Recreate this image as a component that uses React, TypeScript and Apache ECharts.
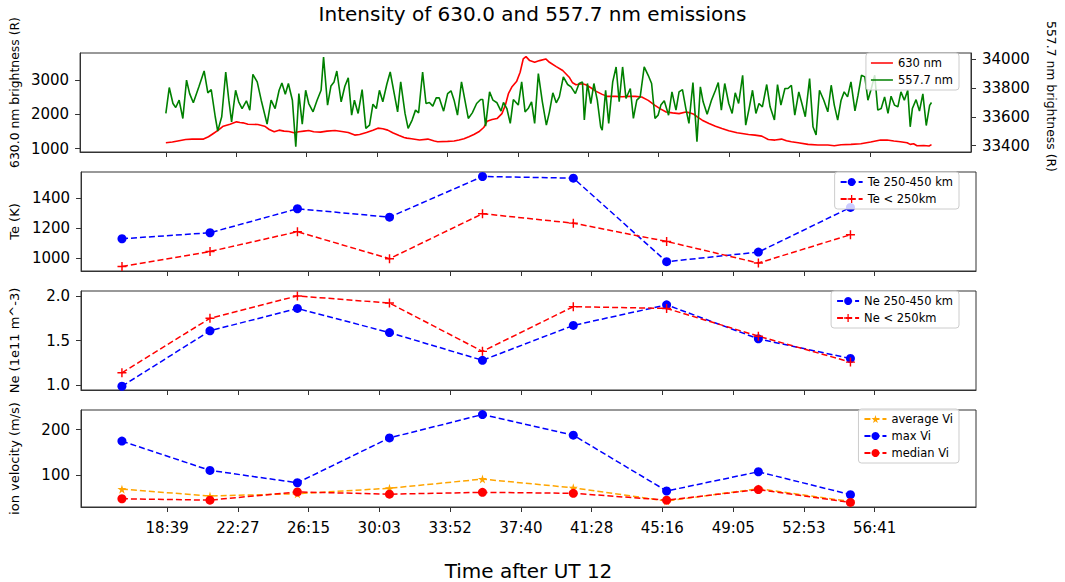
import React, { useEffect, useRef } from "react";
import * as echarts from "echarts";

// x tick labels (minutes:seconds after UT 12)
const TICK_LABELS = ["18:39", "22:27", "26:15", "30:03", "33:52", "37:40", "41:28", "45:16", "49:05", "52:53", "56:41"];

// 630.0 nm brightness (R): [seconds after UT 12, value]
const RED_630: [number, number][] = [
  [1119, 1176], [1140, 1195], [1162, 1234], [1183, 1272], [1204, 1282], [1241, 1282], [1257, 1350], [1273, 1446],
  [1289, 1543], [1305, 1659], [1327, 1717], [1348, 1785], [1359, 1765], [1369, 1756], [1385, 1717], [1417, 1707],
  [1439, 1659], [1454, 1562], [1470, 1495], [1486, 1543], [1502, 1514], [1518, 1504], [1534, 1466], [1550, 1495],
  [1566, 1514], [1582, 1533], [1598, 1495], [1620, 1485], [1641, 1514], [1667, 1533], [1689, 1504], [1710, 1475],
  [1731, 1398], [1747, 1417], [1769, 1475], [1790, 1543], [1806, 1601], [1822, 1582], [1838, 1543], [1854, 1466],
  [1875, 1388], [1891, 1330], [1900, 1310], [1915, 1290], [1941, 1253], [1968, 1282], [1989, 1224], [2000, 1205],
  [2032, 1214], [2053, 1224], [2069, 1253], [2085, 1292], [2101, 1350], [2117, 1417], [2133, 1495], [2149, 1620],
  [2160, 1804], [2176, 1852], [2192, 1881], [2208, 2026], [2219, 2268], [2229, 2606], [2240, 2800], [2256, 2973],
  [2267, 3234], [2277, 3621], [2286, 3689], [2298, 3573], [2314, 3524], [2330, 3573], [2350, 3621], [2362, 3524],
  [2384, 3399], [2405, 3283], [2426, 3089], [2437, 2925], [2448, 2867], [2469, 2896], [2480, 2867], [2496, 2780],
  [2512, 2683], [2533, 2587], [2549, 2529], [2576, 2529], [2597, 2519], [2618, 2529], [2640, 2529], [2661, 2510],
  [2682, 2413], [2704, 2268], [2720, 2171], [2740, 2075], [2761, 2046], [2782, 2026], [2804, 2075], [2814, 2055],
  [2830, 2007], [2841, 1930], [2857, 1833], [2879, 1736], [2900, 1659], [2921, 1591], [2943, 1524], [2970, 1466],
  [2986, 1446], [3007, 1417], [3028, 1398], [3050, 1369], [3071, 1272], [3093, 1253], [3114, 1282], [3130, 1234],
  [3146, 1205], [3168, 1176], [3200, 1127], [3232, 1108], [3264, 1108], [3285, 1089], [3307, 1118], [3339, 1127],
  [3371, 1147], [3403, 1195], [3435, 1253], [3456, 1253], [3478, 1224], [3499, 1205], [3521, 1176], [3531, 1127],
  [3542, 1147], [3553, 1089], [3575, 1095], [3592, 1080], [3600, 1120],
];

// 557.7 nm brightness (R): [seconds after UT 12, value]
const GREEN_557: [number, number][] = [
  [1119, 33624], [1130, 33804], [1142, 33693], [1151, 33665], [1162, 33716], [1174, 33589], [1186, 33855], [1196, 33762],
  [1208, 33698], [1226, 33809], [1243, 33919], [1255, 33767], [1266, 33790], [1279, 33601], [1287, 33501], [1300, 33601],
  [1313, 33912], [1323, 33716], [1332, 33566], [1345, 33785], [1355, 33705], [1366, 33658], [1380, 33712], [1391, 33647],
  [1401, 33896], [1415, 33843], [1428, 33716], [1447, 33550], [1460, 33716], [1473, 33658], [1486, 33785], [1495, 33836],
  [1506, 33758], [1516, 33832], [1529, 33716], [1540, 33393], [1550, 33762], [1561, 33550], [1572, 33785], [1582, 33693],
  [1596, 33635], [1609, 33716], [1622, 33785], [1630, 34016], [1643, 33682], [1654, 33815], [1664, 33843], [1673, 33919],
  [1687, 33705], [1699, 33813], [1710, 33871], [1721, 33612], [1730, 33716], [1742, 33624], [1755, 33790], [1767, 33520],
  [1779, 33543], [1790, 33688], [1801, 33658], [1811, 33785], [1822, 33705], [1835, 33827], [1846, 33912], [1859, 33762],
  [1870, 33635], [1880, 33843], [1894, 33624], [1904, 33520], [1917, 33578], [1928, 33647], [1938, 33628], [1951, 33912],
  [1962, 33693], [1973, 33700], [1984, 33675], [1995, 33732], [2005, 33732], [2019, 33640], [2032, 33762], [2043, 33781],
  [2053, 33716], [2064, 33612], [2077, 33843], [2088, 33716], [2099, 33589], [2112, 33628], [2126, 33693], [2139, 33721],
  [2146, 33721], [2155, 33536], [2168, 33774], [2179, 33716], [2192, 33698], [2205, 33640], [2213, 33700], [2224, 33658],
  [2235, 33555], [2245, 33721], [2261, 33682], [2272, 33843], [2283, 33635], [2293, 33658], [2304, 33705], [2314, 33555],
  [2326, 33901], [2339, 33705], [2352, 33543], [2362, 33635], [2373, 33767], [2384, 33698], [2394, 33739], [2407, 33878],
  [2421, 33825], [2432, 33809], [2446, 33762], [2458, 33832], [2469, 33843], [2475, 33578], [2485, 33832], [2496, 33693],
  [2506, 33832], [2517, 33716], [2528, 33531], [2533, 33508], [2544, 33785], [2554, 33555], [2567, 33843], [2578, 33947],
  [2588, 33705], [2599, 33947], [2610, 33728], [2624, 33797], [2634, 33589], [2645, 33716], [2656, 33739], [2669, 33947],
  [2682, 33889], [2693, 33832], [2704, 33589], [2714, 33612], [2723, 33682], [2734, 33712], [2748, 33612], [2759, 33774],
  [2772, 33647], [2782, 33774], [2793, 33790], [2804, 33658], [2814, 33555], [2827, 33839], [2840, 33428], [2851, 33809],
  [2860, 33705], [2873, 33619], [2887, 33716], [2900, 33785], [2909, 33839], [2919, 33647], [2930, 33832], [2943, 33693],
  [2954, 33624], [2964, 33767], [2975, 33693], [2988, 33889], [2998, 33543], [3009, 33658], [3020, 33785], [3031, 33624],
  [3041, 33693], [3052, 33670], [3066, 33825], [3077, 33670], [3091, 33578], [3101, 33825], [3112, 33682], [3125, 33797],
  [3135, 33797], [3146, 33820], [3157, 33612], [3170, 33774], [3180, 33693], [3191, 33601], [3205, 33866], [3216, 33531],
  [3226, 33474], [3237, 33785], [3251, 33716], [3264, 33635], [3275, 33820], [3285, 33682], [3296, 33578], [3307, 33716],
  [3317, 33774], [3328, 33739], [3339, 33843], [3352, 33642], [3362, 33751], [3373, 33889], [3384, 33878], [3394, 33716],
  [3405, 33797], [3416, 33889], [3426, 33647], [3437, 33658], [3448, 33739], [3459, 33624], [3469, 33744], [3480, 33682],
  [3491, 33670], [3501, 33774], [3512, 33716], [3523, 33785], [3531, 33531], [3538, 33658], [3550, 33720], [3561, 33640],
  [3572, 33760], [3583, 33540], [3594, 33680], [3600, 33700],
];

// Sample times of the profiles (seconds after UT 12)
const PROFILE_TIMES = [973, 1257, 1539, 1836, 2136, 2429, 2730, 3026, 3323];

const TE_HIGH = [1129, 1169, 1329, 1273, 1544, 1533, 976, 1040, 1338];
const TE_LOW = [944, 1044, 1176, 996, 1296, 1233, 1111, 967, 1156];

const NE_HIGH = [0.99, 1.61, 1.86, 1.59, 1.28, 1.67, 1.9, 1.52, 1.3];
const NE_LOW = [1.14, 1.75, 2.0, 1.92, 1.38, 1.88, 1.86, 1.55, 1.26];

const VI_AVG = [70, 55, 60, 72, 92, 73, 44, 71, 43];
const VI_MAX = [175, 111, 84, 182, 233, 188, 66, 108, 58];
const VI_MEDIAN = [49, 46, 64, 59, 63, 61, 46, 69, 41];

const Y_TICKS_630 = [1000, 2000, 3000];
const Y_TICKS_557 = [33400, 33600, 33800, 34000];
const Y_TICKS_TE = [1000, 1200, 1400];
const Y_TICKS_NE = [1.0, 1.5, 2.0];
const Y_TICKS_VI = [100, 200];

const FONT = "DejaVu Sans";

const toSec = (s: string) => {
  const [m, ss] = s.split(":").map(Number);
  return m * 60 + ss;
};
const fmtTime = (v: number) => {
  const m = Math.floor(v / 60);
  const s = Math.round(v - m * 60);
  return `${m}:${String(s).padStart(2, "0")}`;
};
const pair = (vals: number[]) => vals.map((v, i) => [PROFILE_TIMES[i], v]);

const PLUS = "path://M4.2,0H5.8V4.2H10V5.8H5.8V10H4.2V5.8H0V4.2H4.2Z";
const STAR = "path://M50,0L61,35L98,35L68,57L79,91L50,70L21,91L32,57L2,35L39,35Z";
// plain line legend icon (tiny corner specks keep the 22x10 box so the line stays thin)
const LINE_ICON = "path://M0,0H0.01V0.01H0Z M0,4.2H22V5.8H0Z M21.99,9.99H22V10H21.99Z";

export default function App() {
  const ref = useRef<HTMLDivElement>(null);

  useEffect(() => {
    if (!ref.current) return;
    const chart = echarts.init(ref.current, undefined, { renderer: "svg" });
    const tickVals = TICK_LABELS.map(toSec);

    const LEFT = 75;
    const RIGHT = 1065 - 976;
    const tops = [53, 172, 291, 410];
    const heights = [99, 99, 99, 100];

    const grid = tops.map((t, i) => ({
      left: LEFT,
      right: RIGHT,
      top: t,
      height: heights[i],
      show: true,
      borderColor: "#333",
      borderWidth: 1,
      backgroundColor: "transparent",
    }));

    const xAxis = tops.map((_, i) => ({
      type: "value",
      gridIndex: i,
      min: 841,
      max: 3728,
      splitLine: { show: false },
      axisLine: { show: true, lineStyle: { color: "#333", width: 1 } },
      axisTick: { show: true, length: 5, customValues: tickVals, lineStyle: { color: "#333" } },
      axisLabel: {
        show: i === 3,
        customValues: tickVals,
        formatter: (v: number) => fmtTime(v),
        fontSize: 15,
        fontFamily: FONT,
        color: "#000",
        margin: 13,
      },
      ...(i === 3
        ? {
            name: "Time after UT 12",
            nameLocation: "middle",
            nameGap: 54,
            nameTextStyle: { fontSize: 20, fontFamily: FONT, color: "#000" },
          }
        : {}),
    }));

    const yBase = (
      gridIndex: number,
      min: number,
      max: number,
      ticks: number[],
      name: string,
      pos: "left" | "right",
      fmt?: (v: number) => string,
      namePad?: number[],
      nameSize?: number
    ) => ({
      type: "value",
      gridIndex,
      min,
      max,
      position: pos,
      splitLine: { show: false },
      axisLine: { show: true, lineStyle: { color: "#333", width: 1 } },
      axisTick: { show: true, length: 5, customValues: ticks, lineStyle: { color: "#333" } },
      axisLabel: {
        customValues: ticks,
        formatter: fmt || ((v: number) => String(v)),
        fontSize: 15,
        fontFamily: FONT,
        color: "#000",
        margin: 11,
      },
      name,
      nameLocation: "middle",
      nameRotate: pos === "left" ? 90 : -90,
      nameGap: pos === "left" ? 60 : 74,
      nameTextStyle: { fontSize: nameSize || 13, fontFamily: FONT, color: "#000", padding: namePad || 0 },
    });

    const yAxis = [
      yBase(0, 905, 3795, Y_TICKS_630, "630.0 nm brightness (R)", "left", undefined, [0, 0, 0, 20], 12.4),
      yBase(0, 33356, 34044, Y_TICKS_557, "557.7 nm brightness (R)", "right", undefined, [0, 12, 0, 0], 12.4),
      yBase(1, 914, 1574, Y_TICKS_TE, "Te (K)", "left"),
      yBase(2, 0.948, 2.055, Y_TICKS_NE, "Ne (1e11 m^-3)", "left", (v: number) => v.toFixed(1)),
      yBase(3, 31, 243, Y_TICKS_VI, "ion velocity (m/s)", "left"),
    ];

    const dashed = (color: string) => ({ color, width: 1.5, type: [6, 3] });

    const series: any[] = [
      {
        name: "630 nm", type: "line", xAxisIndex: 0, yAxisIndex: 0, data: RED_630,
        symbol: "none", lineStyle: { color: "#ff0000", width: 1.6 }, itemStyle: { color: "#ff0000" },
      },
      {
        name: "557.7 nm", type: "line", xAxisIndex: 0, yAxisIndex: 1, data: GREEN_557,
        symbol: "none", lineStyle: { color: "#008000", width: 1.6 }, itemStyle: { color: "#008000" },
      },
      {
        name: "Te 250-450 km", type: "line", xAxisIndex: 1, yAxisIndex: 2, data: pair(TE_HIGH),
        symbol: "circle", symbolSize: 9, lineStyle: dashed("#0000ff"), itemStyle: { color: "#0000ff" },
      },
      {
        name: "Te < 250km", type: "line", xAxisIndex: 1, yAxisIndex: 2, data: pair(TE_LOW),
        symbol: PLUS, symbolSize: 9, lineStyle: dashed("#ff0000"), itemStyle: { color: "#ff0000" },
      },
      {
        name: "Ne 250-450 km", type: "line", xAxisIndex: 2, yAxisIndex: 3, data: pair(NE_HIGH),
        symbol: "circle", symbolSize: 9, lineStyle: dashed("#0000ff"), itemStyle: { color: "#0000ff" },
      },
      {
        name: "Ne < 250km", type: "line", xAxisIndex: 2, yAxisIndex: 3, data: pair(NE_LOW),
        symbol: PLUS, symbolSize: 9, lineStyle: dashed("#ff0000"), itemStyle: { color: "#ff0000" },
      },
      {
        name: "average Vi", type: "line", xAxisIndex: 3, yAxisIndex: 4, data: pair(VI_AVG),
        symbol: STAR, symbolSize: 9, lineStyle: dashed("#ffa500"), itemStyle: { color: "#ffa500" },
      },
      {
        name: "max Vi", type: "line", xAxisIndex: 3, yAxisIndex: 4, data: pair(VI_MAX),
        symbol: "circle", symbolSize: 9, lineStyle: dashed("#0000ff"), itemStyle: { color: "#0000ff" },
      },
      {
        name: "median Vi", type: "line", xAxisIndex: 3, yAxisIndex: 4, data: pair(VI_MEDIAN),
        symbol: "circle", symbolSize: 9, lineStyle: dashed("#ff0000"), itemStyle: { color: "#ff0000" },
      },
    ];

    const legendBase = {
      orient: "vertical",
      right: 1065 - 959,
      backgroundColor: "rgba(255,255,255,0.8)",
      borderColor: "#cccccc",
      borderWidth: 1,
      borderRadius: 3,
      padding: [4, 6, 4, 5],
      itemGap: 5,
      itemWidth: 22,
      itemHeight: 10,
      selectedMode: false,
      textStyle: { fontSize: 11.5, fontFamily: FONT, color: "#000" },
    };

    const legend = [
      {
        ...legendBase,
        top: 53,
        data: [
          { name: "630 nm", icon: LINE_ICON },
          { name: "557.7 nm", icon: LINE_ICON },
        ],
      },
      { ...legendBase, top: 172, data: ["Te 250-450 km", "Te < 250km"] },
      { ...legendBase, top: 291, data: ["Ne 250-450 km", "Ne < 250km"] },
      { ...legendBase, top: 409, data: ["average Vi", "max Vi", "median Vi"] },
    ];

    chart.setOption({
      animation: false,
      backgroundColor: "#ffffff",
      title: {
        text: "Intensity of 630.0 and 557.7 nm emissions",
        left: "center",
        top: -1,
        textStyle: { fontSize: 20, fontWeight: "normal", fontFamily: FONT, color: "#000" },
      },
      grid,
      xAxis,
      yAxis,
      legend,
      series,
    } as any);

    return () => chart.dispose();
  }, []);

  return <div ref={ref} style={{ position: "absolute", left: 0, top: 0, width: 1065, height: 582 }} />;
}
